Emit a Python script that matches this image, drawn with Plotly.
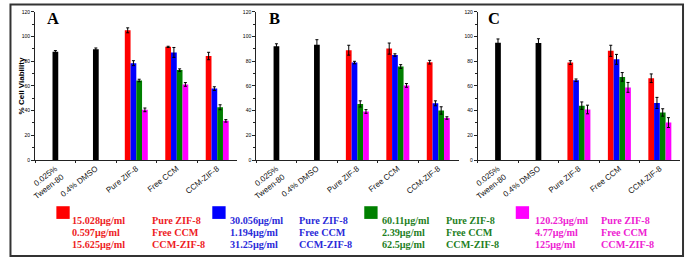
import plotly.graph_objects as go

W, H = 685, 261

categories = ["0.025%<br>Tween-80", "0.4% DMSO", "Pure ZIF-8", "Free CCM", "CCM-ZIF-8"]
control_categories = categories[:2]
treatment_categories = categories[2:]
panel_labels = ["A", "B", "C"]

# Panel A
a_control = [87.6, 89.7]
a_control_err = [1.0, 1.0]
a_red = [105.0, 91.6, 84.2]
a_red_err = [2.0, 0.5, 3.0]
a_blue = [78.4, 87.1, 57.8]
a_blue_err = [2.0, 4.0, 1.5]
a_green = [64.4, 72.8, 42.7]
a_green_err = [1.0, 1.0, 2.0]
a_magenta = [40.6, 61.2, 31.7]
a_magenta_err = [1.5, 1.5, 1.0]

# Panel B
b_control = [92.1, 93.4]
b_control_err = [2.0, 4.0]
b_red = [88.9, 90.2, 79.2]
b_red_err = [4.0, 4.5, 1.5]
b_blue = [78.9, 85.0, 45.9]
b_blue_err = [1.0, 1.0, 2.0]
b_green = [45.4, 75.7, 40.1]
b_green_err = [2.5, 1.5, 3.0]
b_magenta = [39.3, 60.4, 34.0]
b_magenta_err = [1.5, 1.5, 1.0]

# Panel C
c_control = [95.0, 94.7]
c_control_err = [3.0, 3.5]
c_red = [78.9, 88.4, 66.2]
c_red_err = [1.5, 4.5, 3.5]
c_blue = [64.6, 81.5, 46.2]
c_blue_err = [1.0, 4.0, 4.5]
c_green = [44.0, 67.3, 38.5]
c_green_err = [3.0, 3.5, 3.0]
c_magenta = [40.9, 58.8, 30.3]
c_magenta_err = [3.5, 4.0, 4.0]

y_ticks = [0, 20, 40, 60, 80, 100, 120]

bar_colors = ["#ff0000", "#0000ff", "#008000", "#ff00ff"]
legend_colors = ["#ee1c24", "#2b2bd9", "#1f7f1f", "#ee22d2"]
legend_conc = [
    ["15.028μg/ml", "0.597μg/ml", "15.625μg/ml"],
    ["30.056μg/ml", "1.194μg/ml", "31.25μg/ml"],
    ["60.11μg/ml", "2.39μg/ml", "62.5μg/ml"],
    ["120.23μg/ml", "4.77μg/ml", "125μg/ml"],
]
legend_names = ["Pure ZIF-8", "Free CCM", "CCM-ZIF-8"]

panels = [
    (a_control, a_control_err, [a_red, a_blue, a_green, a_magenta],
     [a_red_err, a_blue_err, a_green_err, a_magenta_err]),
    (b_control, b_control_err, [b_red, b_blue, b_green, b_magenta],
     [b_red_err, b_blue_err, b_green_err, b_magenta_err]),
    (c_control, c_control_err, [c_red, c_blue, c_green, c_magenta],
     [c_red_err, c_blue_err, c_green_err, c_magenta_err]),
]

def px(x):
    return x / W

def py(y):
    return 1 - y / H

x_domains_px = [(26.5, 231.5), (250.5, 455.5), (475, 680)]
y_domain = [py(160.7), py(9)]
bw = 0.142

fig = go.Figure()
layout_axes = {}
for i, (ctrl, ctrl_err, series, series_err) in enumerate(panels):
    xa = "x" if i == 0 else f"x{i+1}"
    ya = "y" if i == 0 else f"y{i+1}"
    fig.add_trace(go.Bar(
        x=control_categories, y=ctrl, width=bw, offset=-bw / 2,
        marker=dict(color="black", line=dict(width=0)),
        error_y=dict(type="data", array=ctrl_err, color="black", thickness=1, width=1.5),
        xaxis=xa, yaxis=ya, showlegend=False,
    ))
    for k, (vals, errs) in enumerate(zip(series, series_err)):
        fig.add_trace(go.Bar(
            x=treatment_categories, y=vals, width=bw, offset=-2 * bw + k * bw,
            marker=dict(color=bar_colors[k], line=dict(width=0)),
            error_y=dict(type="data", array=errs, color="black", thickness=1, width=1.5),
            xaxis=xa, yaxis=ya, showlegend=False,
        ))
    d0, d1 = x_domains_px[i]
    layout_axes["xaxis" if i == 0 else f"xaxis{i+1}"] = dict(
        domain=[px(d0), px(d1)], type="category", categoryorder="array",
        categoryarray=categories, range=[-0.5, 4.5], anchor=ya,
        showline=True, linecolor="#222", linewidth=1, ticks="outside", ticklen=2,
        tickcolor="#222", tickson="boundaries", tickangle=-38,
        tickfont=dict(family="Liberation Sans, Arial", size=8, color="#111"),
        showgrid=False, zeroline=False, fixedrange=True,
    )
    layout_axes["yaxis" if i == 0 else f"yaxis{i+1}"] = dict(
        domain=y_domain, range=[0, 120], tickvals=y_ticks, anchor=xa,
        showline=True, linecolor="#222", linewidth=1, ticks="outside", ticklen=3,
        tickcolor="#222", tickfont=dict(family="Liberation Sans, Arial", size=5, color="black"),
        minor=dict(dtick=10, ticks="outside", ticklen=2, tickcolor="#222"),
        showgrid=False, zeroline=False, fixedrange=True,
    )

fig.update_layout(**layout_axes)
fig.update_layout(
    width=W, height=H, margin=dict(l=0, r=0, t=0, b=0),
    paper_bgcolor="white", plot_bgcolor="white", barmode="overlay",
)

annotations = []
# y axis title
annotations.append(dict(
    x=px(12.5), y=py(85), xref="paper", yref="paper", text="<b>% Cell Viability</b>",
    textangle=-90, showarrow=False, xanchor="center", yanchor="middle",
    font=dict(family="Liberation Sans, Arial", size=8, color="black"),
))
# panel letters
letter_x = [36.5, 261, 483]
for lbl, lx in zip(panel_labels, letter_x):
    annotations.append(dict(
        x=px(lx), y=py(16), xref="paper", yref="paper", text=f"<b>{lbl}</b>",
        showarrow=False, xanchor="left", yanchor="middle",
        font=dict(family="Liberation Serif, Times New Roman", size=16.5, color="black"),
    ))

shapes = []
square_x = [48, 206, 360, 513.5]
col1_x = [63, 222.5, 376.5, 532]
col2_x = [144, 293, 441.5, 599]
row_y = [223, 235.2, 247.4]
for k in range(4):
    shapes.append(dict(
        type="rect", xref="paper", yref="paper",
        x0=px(square_x[k]), x1=px(square_x[k] + 13.5), y0=py(221), y1=py(208),
        fillcolor=bar_colors[k], line=dict(width=0),
    ))
    font = dict(family="Liberation Serif, Times New Roman", size=10.2, color=legend_colors[k])
    for r in range(3):
        annotations.append(dict(
            x=px(col1_x[k]), y=py(row_y[r]), xref="paper", yref="paper",
            text=f"<b>{legend_conc[k][r]}</b>", showarrow=False,
            xanchor="left", yanchor="middle", align="left", font=font, borderpad=0,
        ))
        annotations.append(dict(
            x=px(col2_x[k]), y=py(row_y[r]), xref="paper", yref="paper",
            text=f"<b>{legend_names[r]}</b>", showarrow=False,
            xanchor="left", yanchor="middle", align="left", font=font, borderpad=0,
        ))

# outer frame
shapes.append(dict(
    type="rect", xref="paper", yref="paper",
    x0=px(1.5), x1=px(683), y0=py(259), y1=py(1.5),
    line=dict(color="#333", width=2), fillcolor="rgba(0,0,0,0)",
))

fig.update_layout(annotations=annotations, shapes=shapes)
fig.write_html(
    "out.html",
    config={"displayModeBar": False, "staticPlot": True},
    post_script="document.body.style.margin='0px';document.documentElement.style.margin='0px';",
)
